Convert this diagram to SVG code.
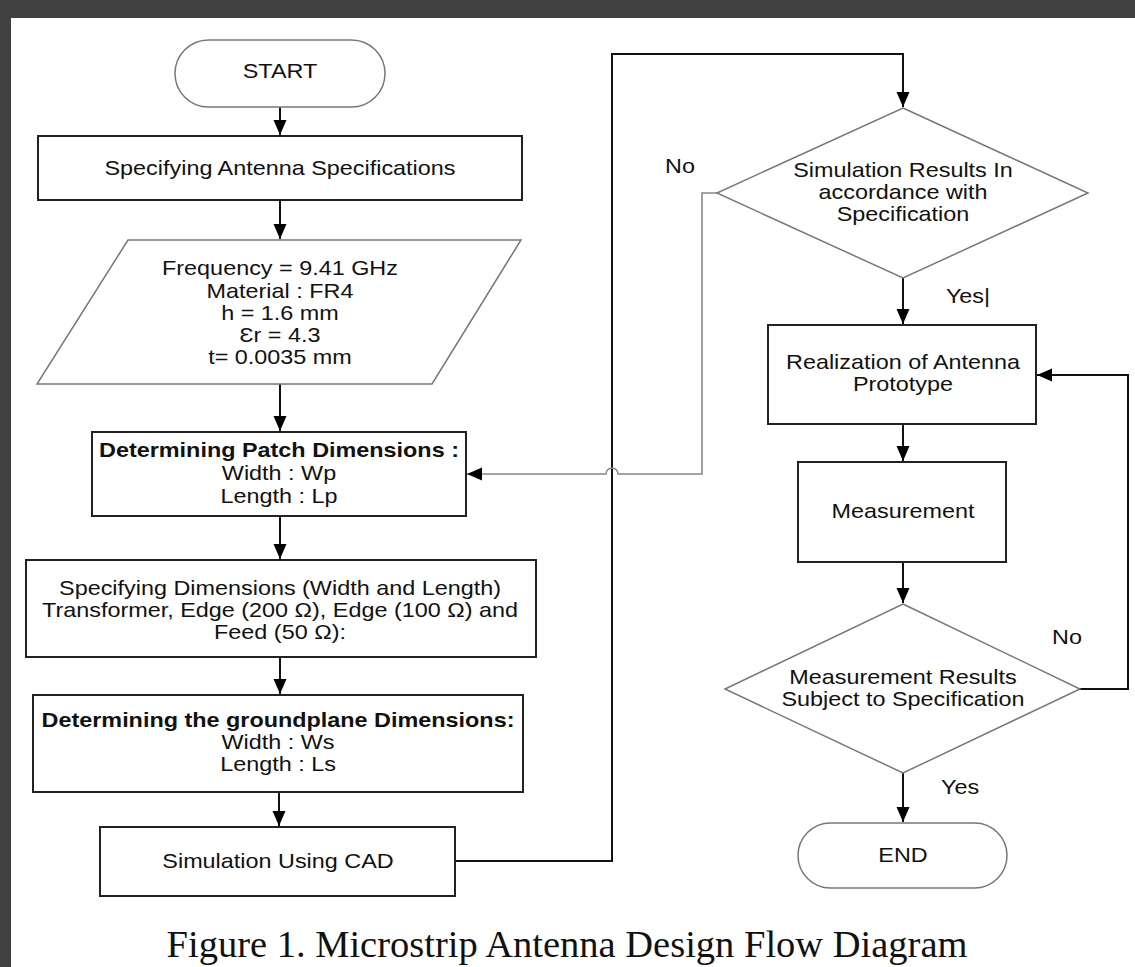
<svg xmlns="http://www.w3.org/2000/svg" width="1135" height="967" viewBox="0 0 1135 967">
<style>
.t{font-family:"Liberation Sans",Arial,sans-serif;font-size:20px;fill:#111;text-anchor:middle}
.b{font-weight:bold}
.box{fill:#fff;stroke:#222;stroke-width:2}
.gs{fill:#fff;stroke:#777;stroke-width:1.5}
.ln{fill:none;stroke:#111;stroke-width:2}
.lg{fill:none;stroke:#888;stroke-width:1.6}
.cap{font-family:"Liberation Serif","Times New Roman",serif;font-size:38.5px;fill:#111;text-anchor:middle}
</style>
<defs>
<marker id="ah" markerUnits="userSpaceOnUse" markerWidth="16" markerHeight="16" viewBox="0 0 16 16" refX="15" refY="8" orient="auto">
<path d="M0,1.5 L15,8 L0,14.5 Z" fill="#000"/>
</marker>
</defs>
<rect x="0" y="0" width="1135" height="967" fill="#404041"/>
<rect x="11" y="18" width="1124" height="949" fill="#fff"/>

<g id="connectors">
<line class="ln" x1="280" y1="107" x2="280" y2="135" marker-end="url(#ah)"/>
<line class="ln" x1="280" y1="200" x2="280" y2="239" marker-end="url(#ah)"/>
<line class="ln" x1="280" y1="384" x2="280" y2="431" marker-end="url(#ah)"/>
<line class="ln" x1="280" y1="516" x2="280" y2="559" marker-end="url(#ah)"/>
<line class="ln" x1="280" y1="657" x2="280" y2="694" marker-end="url(#ah)"/>
<line class="ln" x1="279" y1="792" x2="279" y2="826" marker-end="url(#ah)"/>
<path class="ln" d="M455,861 H612 V54 H903 V107" marker-end="url(#ah)"/>
<path class="lg" d="M717,193 H702 V474 H618 A6,6 0 0 0 606,474 H467" marker-end="url(#ah)"/>
<line class="ln" x1="903" y1="278" x2="903" y2="324" marker-end="url(#ah)"/>
<line class="ln" x1="903" y1="424" x2="903" y2="461" marker-end="url(#ah)"/>
<line class="ln" x1="903" y1="562" x2="903" y2="603" marker-end="url(#ah)"/>
<path class="ln" d="M1080,689 H1128 V375 H1037" marker-end="url(#ah)"/>
<line class="ln" x1="903" y1="773" x2="903" y2="822" marker-end="url(#ah)"/>
<text class="t" transform="translate(680 173) scale(1.17 1)">No</text>
<text class="t" transform="translate(968 303) scale(1.17 1)">Yes|</text>
<text class="t" transform="translate(1067 644) scale(1.17 1)">No</text>
<text class="t" transform="translate(960 794) scale(1.17 1)">Yes</text>
</g>

<g id="start">
<rect class="gs" x="175" y="40" width="210" height="67" rx="33.5" ry="33.5"/>
<text class="t" transform="translate(280 78) scale(1.17 1)">START</text>
</g>

<g id="spec-antenna">
<rect class="box" x="38" y="136" width="484" height="64"/>
<text class="t" transform="translate(280 175) scale(1.17 1)">Specifying Antenna Specifications</text>
</g>

<g id="parameters">
<polygon class="gs" points="128,240 521,240 432,384 37,384"/>
<text class="t" transform="translate(280 275) scale(1.17 1)">Frequency = 9.41 GHz</text>
<text class="t" transform="translate(280 298) scale(1.17 1)">Material : FR4</text>
<text class="t" transform="translate(280 320) scale(1.17 1)">h = 1.6 mm</text>
<text class="t" transform="translate(280 342) scale(1.17 1)">Ɛr = 4.3</text>
<text class="t" transform="translate(280 364) scale(1.17 1)">t= 0.0035 mm</text>
</g>

<g id="patch">
<rect class="box" x="92" y="432" width="374" height="84"/>
<text class="t b" transform="translate(279 457) scale(1.17 1)">Determining Patch Dimensions :</text>
<text class="t" transform="translate(279 480) scale(1.17 1)">Width : Wp</text>
<text class="t" transform="translate(279 503) scale(1.17 1)">Length : Lp</text>
</g>

<g id="spec-dimensions">
<rect class="box" x="26" y="560" width="510" height="97"/>
<text class="t" transform="translate(280 595) scale(1.17 1)">Specifying Dimensions (Width and Length)</text>
<text class="t" transform="translate(280 617) scale(1.17 1)">Transformer, Edge (200 Ω), Edge (100 Ω) and</text>
<text class="t" transform="translate(280 639) scale(1.17 1)">Feed (50 Ω):</text>
</g>

<g id="groundplane">
<rect class="box" x="33" y="695" width="490" height="97"/>
<text class="t b" transform="translate(278 727) scale(1.17 1)">Determining the groundplane Dimensions:</text>
<text class="t" transform="translate(278 749) scale(1.17 1)">Width : Ws</text>
<text class="t" transform="translate(278 771) scale(1.17 1)">Length : Ls</text>
</g>

<g id="simulation">
<rect class="box" x="100" y="827" width="355" height="69"/>
<text class="t" transform="translate(278 868) scale(1.17 1)">Simulation Using CAD</text>
</g>

<g id="sim-check">
<polygon class="gs" points="903,108 1088,193 903,278 717,193"/>
<text class="t" transform="translate(903 177) scale(1.17 1)">Simulation Results In</text>
<text class="t" transform="translate(903 199) scale(1.17 1)">accordance with</text>
<text class="t" transform="translate(903 221) scale(1.17 1)">Specification</text>
</g>

<g id="realization">
<rect class="box" x="768" y="325" width="268" height="99"/>
<text class="t" transform="translate(903 369) scale(1.17 1)">Realization of Antenna</text>
<text class="t" transform="translate(903 391) scale(1.17 1)">Prototype</text>
</g>

<g id="measurement">
<rect class="box" x="798" y="462" width="208" height="100"/>
<text class="t" transform="translate(903 518) scale(1.17 1)">Measurement</text>
</g>

<g id="meas-check">
<polygon class="gs" points="903,604 1080,689 903,773 725,689"/>
<text class="t" transform="translate(903 684) scale(1.17 1)">Measurement Results</text>
<text class="t" transform="translate(903 706) scale(1.17 1)">Subject to Specification</text>
</g>

<g id="end">
<rect class="gs" x="798" y="823" width="209" height="65" rx="32.5" ry="32.5"/>
<text class="t" transform="translate(903 862) scale(1.17 1)">END</text>
</g>

<text class="cap" x="567" y="957">Figure 1. Microstrip Antenna Design Flow Diagram</text>
</svg>
